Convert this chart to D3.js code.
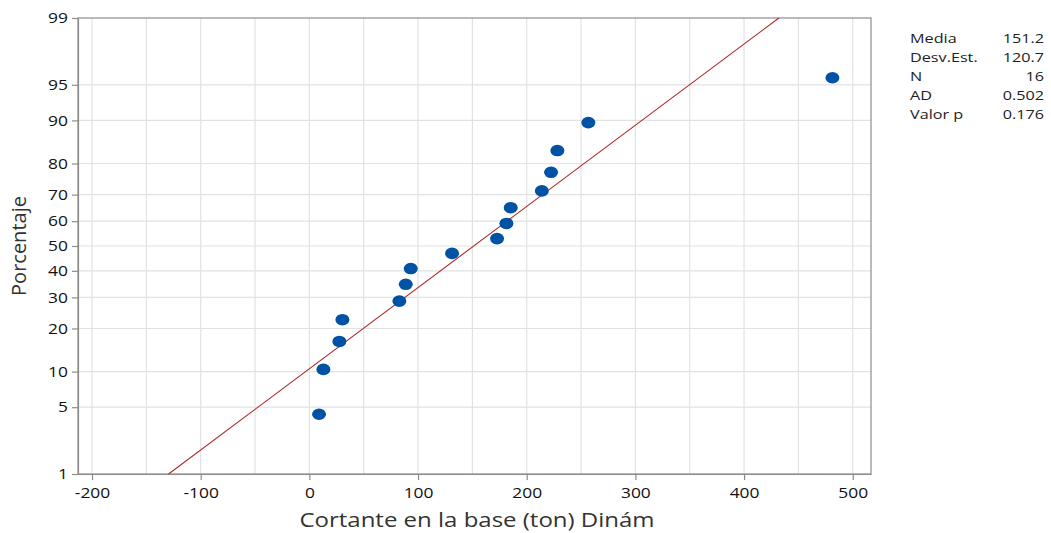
<!DOCTYPE html>
<html><head><meta charset="utf-8">
<script src="https://cdn.jsdelivr.net/npm/d3@7"></script>
<style>
body{margin:0;background:#fff;}
text{font-family:"Open Sans","Noto Sans",sans-serif;}
</style></head>
<body><svg id="c" width="1051" height="533"></svg>
<script>
// Data
const values = [8.9,12.9,27.6,30.4,82.8,88.7,93.3,131.3,172.7,181.3,185.3,213.9,222.4,228.2,256.7,481.3];
const percents = [4.3,10.4,16.5,22.6,28.7,34.8,40.9,47.0,53.0,59.1,65.2,71.3,77.4,83.5,89.6,95.7];
const xTicks = [-200,-100,0,100,200,300,400,500];
const xGrid = [-200,-150,-100,-50,0,50,100,150,200,250,300,350,400,450,500];
const yTicks = [1,5,10,20,30,40,50,60,70,80,90,95,99];
const statLabels = ["Media","Desv.Est.","N","AD","Valor p"];
const statValues = ["151.2","120.7","16","0.502","0.176"];
const fitMean = 151.2, fitSd = 120.7;

// inverse normal CDF (Acklam)
function probit(p){
  const a=[-3.969683028665376e+01,2.209460984245205e+02,-2.759285104469687e+02,1.383577518672690e+02,-3.066479806614716e+01,2.506628277459239e+00];
  const b=[-5.447609879822406e+01,1.615858368580409e+02,-1.556989798598866e+02,6.680131188771972e+01,-1.328068155288572e+01];
  const c=[-7.784894002430293e-03,-3.223964580411365e-01,-2.400758277161838e+00,-2.549732539343734e+00,4.374664141464968e+00,2.938163982698783e+00];
  const d=[7.784695709041462e-03,3.224671290700398e-01,2.445134137142996e+00,3.754408661907416e+00];
  const pl=0.02425, ph=1-pl; let q,r;
  if(p<pl){q=Math.sqrt(-2*Math.log(p));return (((((c[0]*q+c[1])*q+c[2])*q+c[3])*q+c[4])*q+c[5])/((((d[0]*q+d[1])*q+d[2])*q+d[3])*q+1);}
  if(p<=ph){q=p-0.5;r=q*q;return (((((a[0]*r+a[1])*r+a[2])*r+a[3])*r+a[4])*r+a[5])*q/(((((b[0]*r+b[1])*r+b[2])*r+b[3])*r+b[4])*r+1);}
  q=Math.sqrt(-2*Math.log(1-p));return -(((((c[0]*q+c[1])*q+c[2])*q+c[3])*q+c[4])*q+c[5])/((((d[0]*q+d[1])*q+d[2])*q+d[3])*q+1);
}

const SX=1.2; // horizontal text stretch seen in the reference
const L=78,R=871,T=18,B=474;
const svg=d3.select("#c");
const x=d3.scaleLinear().domain([-212.9,516.8]).range([L,R]);
const zs=d3.scaleLinear().domain([probit(0.01),probit(0.99)]).range([B,T]);
const y=p=>zs(probit(p/100));

// grid
svg.append("g").selectAll("line").data(xGrid).join("line")
  .attr("x1",d=>x(d)).attr("x2",d=>x(d)).attr("y1",T).attr("y2",B)
  .attr("stroke","#e2e2e2").attr("stroke-width",1.2);
svg.append("g").selectAll("line").data(yTicks.filter(d=>d!==1&&d!==99)).join("line")
  .attr("x1",L).attr("x2",R).attr("y1",d=>y(d)).attr("y2",d=>y(d))
  .attr("stroke","#e2e2e2").attr("stroke-width",1.2);

// frame
svg.append("rect").attr("x",L).attr("y",T).attr("width",R-L).attr("height",B-T)
  .attr("fill","none").attr("stroke","#8c8c8c").attr("stroke-width",1.2);

// axes
const xa=svg.append("g").attr("transform",`translate(0,${B})`)
  .call(d3.axisBottom(x).tickValues(xTicks).tickSize(6).tickSizeOuter(0).tickFormat(d=>String(d)));
const ya=svg.append("g").attr("transform",`translate(${L},0)`)
  .call(d3.axisLeft(zs).tickValues(yTicks.map(p=>probit(p/100))).tickSize(6).tickSizeOuter(0)
    .tickFormat((d,i)=>String(yTicks[i])));
[xa,ya].forEach(g=>{
  g.select(".domain").attr("stroke","#8c8c8c").attr("stroke-width",1.2);
  g.selectAll(".tick line").attr("stroke","#8c8c8c").attr("stroke-width",1.2);
  g.selectAll(".tick text").attr("fill","#111").style("font-size","14.5px")
    .attr("transform",`scale(${SX},1)`);
});
xa.selectAll(".tick text").attr("dy","0.95em").attr("y",10);
ya.selectAll(".tick text").attr("x",-10/SX);

// fit line
const pLo=0.01,pHi=0.99;
const xLo=fitMean+fitSd*probit(pLo), xHi=fitMean+fitSd*probit(pHi);
svg.append("line").attr("x1",x(xLo)).attr("y1",zs(probit(pLo))).attr("x2",x(xHi)).attr("y2",zs(probit(pHi)))
  .attr("stroke","#b0282a").attr("stroke-width",1.1);

// points
svg.append("g").selectAll("ellipse").data(values).join("ellipse")
  .attr("cx",d=>x(d)).attr("cy",(d,i)=>y(percents[i])).attr("rx",7).attr("ry",5.8)
  .attr("fill","#0052a5");

// titles
svg.append("text").attr("transform",`translate(477,527) scale(${SX},1)`).attr("text-anchor","middle")
  .attr("fill","#333").style("font-size","20px").text("Cortante en la base (ton) Dinám");
svg.append("text").attr("transform",`translate(26,${(T+B)/2}) rotate(-90)`).attr("text-anchor","middle")
  .attr("fill","#333").style("font-size","20px").text("Porcentaje");

// stats
const st=svg.append("g");
statLabels.forEach((s,i)=>{
  const by=43.3+i*19;
  st.append("text").attr("transform",`translate(910,${by}) scale(${SX},1)`).attr("fill","#222").style("font-size","13.5px").text(s);
  st.append("text").attr("transform",`translate(1044,${by}) scale(${SX},1)`).attr("text-anchor","end").attr("fill","#222").style("font-size","13.5px").text(statValues[i]);
});
</script></body></html>
